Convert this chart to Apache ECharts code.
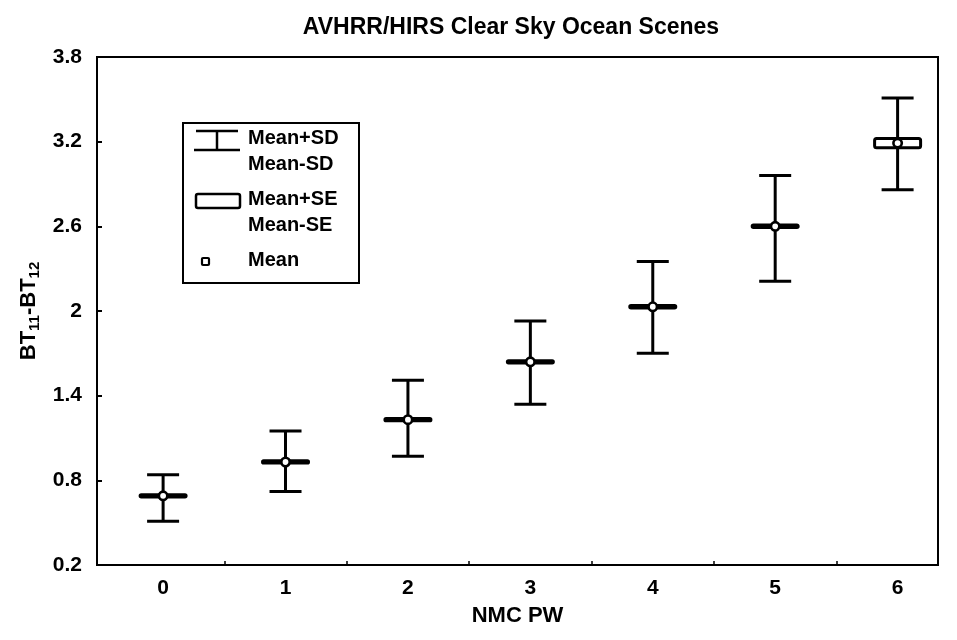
<!DOCTYPE html>
<html>
<head>
<meta charset="utf-8">
<script src="https://cdn.jsdelivr.net/npm/echarts@6/dist/echarts.min.js"></script>
<style>
html,body{margin:0;padding:0;background:#fff;}
#chart{width:957px;height:640px;}
</style>
</head>
<body>
<div id="chart"></div>
<script>
// ---- data ----
const pw       = [0, 1, 2, 3, 4, 5, 6];                       // NMC PW categories
const meanVals = [0.69, 0.93, 1.23, 1.64, 2.03, 2.60, 3.19];  // Mean
const sdLower  = [0.51, 0.72, 0.97, 1.34, 1.70, 2.21, 2.86];  // Mean-SD
const sdUpper  = [0.84, 1.15, 1.51, 1.93, 2.35, 2.96, 3.51];  // Mean+SD
const seLower  = [0.682, 0.922, 1.222, 1.632, 2.021, 2.591, 3.157]; // Mean-SE
const seUpper  = [0.698, 0.938, 1.238, 1.648, 2.039, 2.609, 3.223]; // Mean+SE
const yTicks   = [0.2, 0.8, 1.4, 2, 2.6, 3.2, 3.8];
const xTickLabels = ['0', '1', '2', '3', '4', '5', '6'];

const FONT = 'Liberation Sans, Arial, sans-serif';
const rows = pw.map((x, i) => [x, meanVals[i], sdLower[i], sdUpper[i], seLower[i], seUpper[i]]);

const chart = echarts.init(document.getElementById('chart'), null, {renderer: 'canvas'});

function renderItem(params, api) {
  const x = api.value(0);
  const pM  = api.coord([x, api.value(1)]);
  const pLo = api.coord([x, api.value(2)]);
  const pHi = api.coord([x, api.value(3)]);
  const pSeLo = api.coord([x, api.value(4)]);
  const pSeHi = api.coord([x, api.value(5)]);
  const capHalf = 16, boxHalf = 23;
  const line = {stroke: '#000', lineWidth: 3, lineCap: 'butt'};
  return {
    type: 'group',
    children: [
      {type: 'line', shape: {x1: pLo[0], y1: pLo[1], x2: pHi[0], y2: pHi[1]}, style: line},
      {type: 'line', shape: {x1: pHi[0] - capHalf, y1: pHi[1], x2: pHi[0] + capHalf, y2: pHi[1]}, style: line},
      {type: 'line', shape: {x1: pLo[0] - capHalf, y1: pLo[1], x2: pLo[0] + capHalf, y2: pLo[1]}, style: line},
      {type: 'rect', shape: {x: pM[0] - boxHalf, y: pSeHi[1], width: boxHalf * 2, height: Math.max(pSeLo[1] - pSeHi[1], 0.5), r: 2},
        style: {fill: '#fff', stroke: '#000', lineWidth: 3}},
      {type: 'circle', shape: {cx: pM[0], cy: pM[1], r: 4.2}, style: {fill: '#fff', stroke: '#000', lineWidth: 2.6}}
    ]
  };
}

const option = {
  backgroundColor: '#fff',
  animation: false,
  title: {
    text: 'AVHRR/HIRS Clear Sky Ocean Scenes',
    left: 506, top: 11, textAlign: 'center',
    textStyle: {fontFamily: FONT, fontSize: 23, fontWeight: 'bold', color: '#000'}
  },
  grid: {left: 97, right: 19, top: 57, bottom: 75, show: true, borderColor: '#000', borderWidth: 2, backgroundColor: 'transparent'},
  xAxis: {
    type: 'value', min: -0.54, max: 6.33,
    name: 'NMC PW', nameLocation: 'middle', nameGap: 40,
    nameTextStyle: {fontFamily: FONT, fontSize: 22, fontWeight: 'bold', color: '#000'},
    axisLine: {show: true, onZero: false, lineStyle: {color: '#000', width: 2}},
    axisTick: {show: true, inside: true, length: 4, lineStyle: {color: '#000', width: 1.5},
      customValues: pw.slice(1).map(v => v - 0.5)},
    axisLabel: {customValues: pw, formatter: v => xTickLabels[pw.indexOf(Math.round(v))] || '',
      margin: 13, fontFamily: FONT, fontSize: 21, fontWeight: 'bold', color: '#000'},
    splitLine: {show: false}
  },
  yAxis: {
    type: 'value', min: yTicks[0], max: yTicks[yTicks.length - 1], interval: 0.6,
    name: '{b|BT}{s|11}{b|-BT}{s|12}', nameLocation: 'middle', nameRotate: 90, nameGap: 52,
    nameTextStyle: {
      rich: {
        b: {fontFamily: FONT, fontSize: 22, fontWeight: 'bold', color: '#000'},
        s: {fontFamily: FONT, fontSize: 15, fontWeight: 'bold', color: '#000', verticalAlign: 'bottom', padding: [10, 0, 0, 0]}
      }
    },
    axisLine: {show: true, onZero: false, lineStyle: {color: '#000', width: 2}},
    axisTick: {show: true, inside: true, length: 5, lineStyle: {color: '#000', width: 2}},
    axisLabel: {formatter: v => String(+v.toFixed(1)), margin: 15,
      fontFamily: FONT, fontSize: 21, fontWeight: 'bold', color: '#000'},
    splitLine: {show: false}
  },
  graphic: [
    {type: 'rect', left: 182, top: 122, shape: {width: 176, height: 160},
      style: {fill: '#fff', stroke: '#000', lineWidth: 2}, z: 10},
    // SD icon
    {type: 'line', shape: {x1: 196, y1: 131, x2: 238, y2: 131}, style: {stroke: '#000', lineWidth: 2.5}, z: 11},
    {type: 'line', shape: {x1: 217, y1: 131, x2: 217, y2: 150}, style: {stroke: '#000', lineWidth: 2.5}, z: 11},
    {type: 'line', shape: {x1: 194, y1: 150, x2: 240, y2: 150}, style: {stroke: '#000', lineWidth: 2.5}, z: 11},
    // SE icon
    {type: 'rect', shape: {x: 196, y: 194, width: 44, height: 14, r: 2}, style: {fill: '#fff', stroke: '#000', lineWidth: 2.5}, z: 11},
    // Mean icon
    {type: 'rect', shape: {x: 202, y: 258, width: 7, height: 7, r: 1}, style: {fill: '#fff', stroke: '#000', lineWidth: 2.2}, z: 11},
    {type: 'text', left: 248, top: 128, style: {text: 'Mean+SD', font: 'bold 20px ' + FONT, fill: '#000'}, z: 11},
    {type: 'text', left: 248, top: 154, style: {text: 'Mean-SD', font: 'bold 20px ' + FONT, fill: '#000'}, z: 11},
    {type: 'text', left: 248, top: 189, style: {text: 'Mean+SE', font: 'bold 20px ' + FONT, fill: '#000'}, z: 11},
    {type: 'text', left: 248, top: 215, style: {text: 'Mean-SE', font: 'bold 20px ' + FONT, fill: '#000'}, z: 11},
    {type: 'text', left: 248, top: 250, style: {text: 'Mean', font: 'bold 20px ' + FONT, fill: '#000'}, z: 11}
  ],
  series: [{
    type: 'custom',
    renderItem: renderItem,
    encode: {x: 0, y: [1, 2, 3, 4, 5]},
    data: rows,
    clip: false,
    z: 5
  }]
};
chart.setOption(option);
</script>
</body>
</html>
